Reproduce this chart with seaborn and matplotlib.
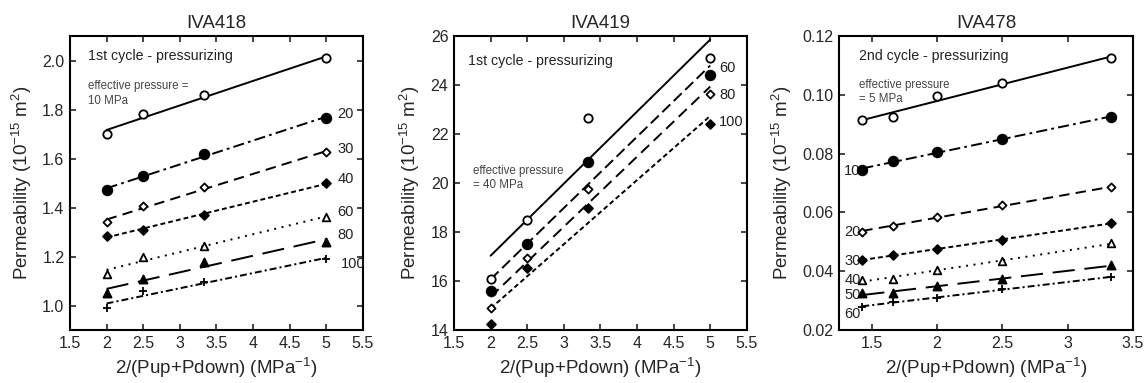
import numpy as np
import matplotlib
matplotlib.use("Agg")
import matplotlib.pyplot as plt
import seaborn as sns

# IVA418 - 1st cycle
x418 = [2.0, 2.5, 3.333, 5.0]
p418 = ["10", "20", "30", "40", "60", "80", "100"]
k418_10 = [1.70, 1.78, 1.86, 2.01]
k418_20 = [1.47, 1.53, 1.62, 1.765]
k418_30 = [1.34, 1.405, 1.485, 1.625]
k418_40 = [1.285, 1.31, 1.37, 1.50]
k418_60 = [1.13, 1.20, 1.245, 1.36]
k418_80 = [1.05, 1.11, 1.18, 1.26]
k418_100 = [0.99, 1.06, 1.095, 1.19]

# IVA419 - 1st cycle
x419 = [2.0, 2.5, 3.333, 5.0]
p419 = ["40", "60", "80", "100"]
k419_40 = [16.1, 18.5, 22.65, 25.1]
k419_60 = [15.6, 17.5, 20.85, 24.4]
k419_80 = [14.9, 16.95, 19.75, 23.65]
k419_100 = [14.25, 16.55, 19.0, 22.4]

# IVA478 - 2nd cycle
x478 = [1.4286, 1.6667, 2.0, 2.5, 3.3333]
p478 = ["5", "10", "20", "30", "40", "50", "60"]
k478_5 = [0.0915, 0.0925, 0.0995, 0.104, 0.1125]
k478_10 = [0.0745, 0.0775, 0.0805, 0.085, 0.0925]
k478_20 = [0.0535, 0.0555, 0.0585, 0.0625, 0.0685]
k478_30 = [0.0440, 0.0455, 0.0475, 0.0505, 0.0565]
k478_40 = [0.0370, 0.0375, 0.0405, 0.0435, 0.0495]
k478_50 = [0.0325, 0.0325, 0.0350, 0.0375, 0.0420]
k478_60 = [0.0280, 0.0295, 0.0310, 0.0340, 0.0380]

sns.set_style("ticks")
plt.rcParams['font.family'] = ['Liberation Sans', 'DejaVu Sans']
plt.rcParams['mathtext.default'] = 'regular'
plt.rcParams['lines.scale_dashes'] = False

# marker styles: (marker, filled, size)
OC = ('o', False, 36)
FC = ('o', True, 48)
OD = ('D', False, 17)
FD = ('D', True, 20)
OT = ('^', False, 30)
FT = ('^', True, 34)
PL = ('+', True, 40)

SOLID = '-'
DASHDOT_L = (0, (8, 3, 2, 3))
DASHED = (0, (7.5, 4.5))
SHORT = (0, (3.5, 2.2))
DOTTED = (0, (1.4, 4))
LONG = (0, (16, 7))
DASHDOT = (0, (5, 2.2, 1.5, 2.2))


def draw_series(ax, x, y, mk, ls):
    sns.regplot(x=x, y=y, ax=ax, scatter=False, ci=None, color='black',
                line_kws={'linestyle': ls, 'linewidth': 1.4})
    marker, filled, size = mk
    if marker == '+':
        sns.scatterplot(x=x, y=y, ax=ax, marker='+', s=size, color='black',
                        linewidth=1.3, zorder=5)
    else:
        sns.scatterplot(x=x, y=y, ax=ax, marker=marker, s=size,
                        facecolor='black' if filled else 'white',
                        edgecolor='black', linewidth=1.3, zorder=5)


def style_axes(ax, title):
    ax.set_title(title, fontsize=13.5, pad=6)
    ax.set_xlabel("2/(Pup+Pdown) (MPa$^{-1}$)", fontsize=13.5, labelpad=4)
    ax.set_ylabel("Permeability (10$^{-15}$ m$^2$)", fontsize=13.5, labelpad=6)
    ax.tick_params(direction='in', length=4, width=1.2, labelsize=11.5,
                   top=True, right=True, pad=4)
    for sp in ax.spines.values():
        sp.set_linewidth(1.5)
        sp.set_color('black')


fig = plt.figure(figsize=(11.48, 3.83), dpi=100)
ax1 = fig.add_axes([0.061, 0.138, 0.255, 0.768])
ax2 = fig.add_axes([0.3955, 0.138, 0.255, 0.768])
ax3 = fig.add_axes([0.7308, 0.138, 0.256, 0.768])

# panel 1
series1 = [k418_10, k418_20, k418_30, k418_40, k418_60, k418_80, k418_100]
marks1 = [OC, FC, OD, FD, OT, FT, PL]
lines1 = [SOLID, DASHDOT_L, DASHED, SHORT, DOTTED, LONG, DASHDOT]
for y, mk, ls in zip(series1, marks1, lines1):
    draw_series(ax1, x418, y, mk, ls)
ax1.set_xlim(1.5, 5.5)
ax1.set_ylim(0.9, 2.1)
ax1.set_xticks(np.arange(1.5, 5.51, 0.5))
ax1.set_xticklabels(["1.5", "2", "2.5", "3", "3.5", "4", "4.5", "5", "5.5"])
ax1.set_yticks(np.arange(1.0, 2.01, 0.2))
ax1.set_yticklabels(["1.0", "1.2", "1.4", "1.6", "1.8", "2.0"])
style_axes(ax1, "IVA418")
ax1.text(1.75, 2.02, "1st cycle - pressurizing", fontsize=10.2, va='center', color='#222222')
ax1.text(1.75, 1.865, "effective pressure =\n10 MPa", fontsize=8.3, va='center',
         color='#444444', linespacing=1.25)
lab1_y = [1.78, 1.64, 1.515, 1.38, 1.29, 1.17]
lab1_x = [5.15, 5.15, 5.15, 5.15, 5.15, 5.2]
for name, lx, ly in zip(p418[1:], lab1_x, lab1_y):
    ax1.text(lx, ly, name, fontsize=10.5, va='center', color='#222222')

# panel 2
series2 = [k419_40, k419_60, k419_80, k419_100]
marks2 = [OC, FC, OD, FD]
lines2 = [SOLID, (0, (8, 3.5)), (0, (8, 4.5)), SHORT]
for y, mk, ls in zip(series2, marks2, lines2):
    draw_series(ax2, x419, y, mk, ls)
ax2.set_xlim(1.5, 5.5)
ax2.set_ylim(14, 26)
ax2.set_xticks(np.arange(1.5, 5.51, 0.5))
ax2.set_xticklabels(["1.5", "2", "2.5", "3", "3.5", "4", "4.5", "5", "5.5"])
ax2.set_yticks(np.arange(14, 26.1, 2))
style_axes(ax2, "IVA419")
ax2.text(1.69, 25.0, "1st cycle - pressurizing", fontsize=10.2, va='center', color='#222222')
ax2.text(1.76, 20.2, "effective pressure\n= 40 MPa", fontsize=8.3, va='center',
         color='#444444', linespacing=1.25)
lab2_y = [24.7, 23.6, 22.5]
for name, ly in zip(p419[1:], lab2_y):
    ax2.text(5.12, ly, name, fontsize=10.5, va='center', color='#222222')

# panel 3
series3 = [k478_5, k478_10, k478_20, k478_30, k478_40, k478_50, k478_60]
for y, mk, ls in zip(series3, marks1, lines1):
    draw_series(ax3, x478, y, mk, ls)
ax3.set_xlim(1.25, 3.5)
ax3.set_ylim(0.02, 0.12)
ax3.set_xticks(np.arange(1.5, 3.51, 0.5))
ax3.set_xticklabels(["1.5", "2", "2.5", "3", "3.5"])
ax3.set_yticks(np.arange(0.02, 0.121, 0.02))
ax3.set_yticklabels(["0.02", "0.04", "0.06", "0.08", "0.10", "0.12"])
style_axes(ax3, "IVA478")
ax3.text(1.40, 0.1133, "2nd cycle - pressurizing", fontsize=10.2, va='center', color='#222222')
ax3.text(1.40, 0.101, "effective pressure\n= 5 MPa", fontsize=8.3, va='center',
         color='#444444', linespacing=1.25)
lab3_y = [0.074, 0.0535, 0.0435, 0.037, 0.032, 0.0255]
for name, ly in zip(p478[1:], lab3_y):
    ax3.text(1.415, ly, name, fontsize=10.5, va='center', ha='right', color='#222222')

fig.savefig("out.png", dpi=100)
